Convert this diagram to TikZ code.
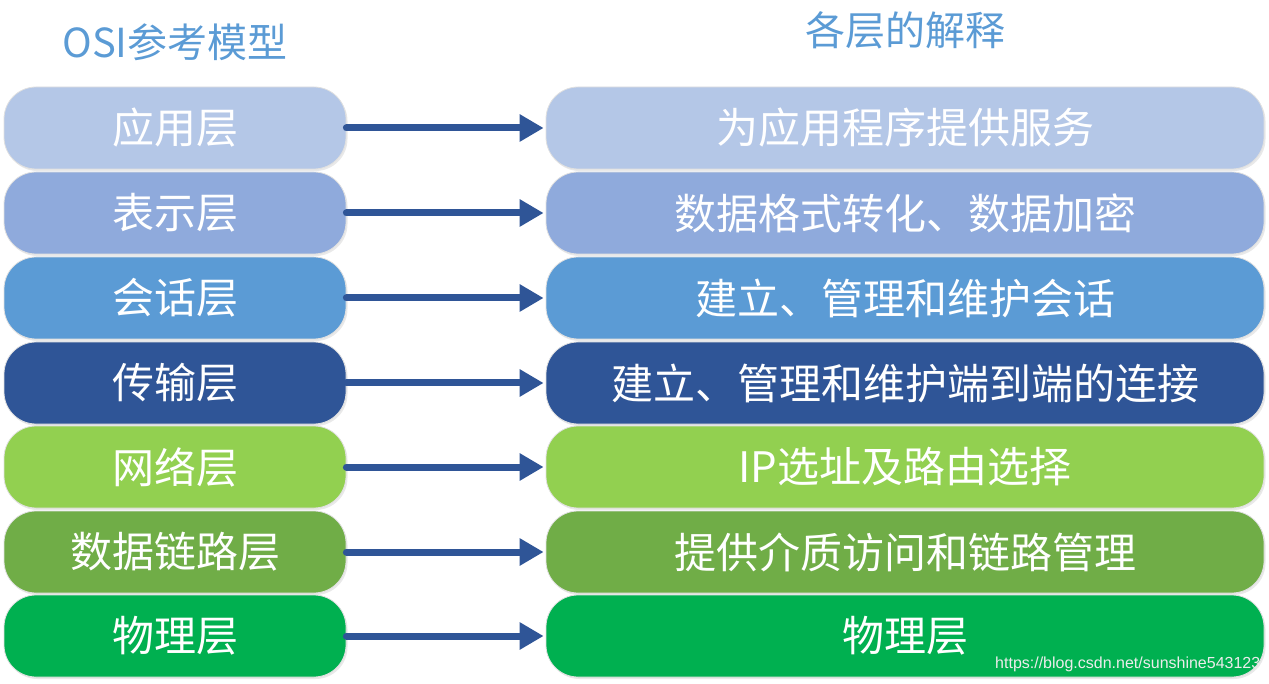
\documentclass[tikz,border=0pt]{standalone}
\usepackage{fontspec}
\newfontfamily\cjk{Noto Sans CJK SC}
\setsansfont{Liberation Sans}
\usetikzlibrary{arrows.meta,shadows}
\definecolor{cA}{HTML}{B4C7E7}
\definecolor{cB}{HTML}{8FAADC}
\definecolor{cC}{HTML}{5B9BD5}
\definecolor{cD}{HTML}{2F5597}
\definecolor{cE}{HTML}{92D050}
\definecolor{cF}{HTML}{70AD47}
\definecolor{cG}{HTML}{00B050}
\definecolor{arrowc}{HTML}{2F5597}
\definecolor{headc}{HTML}{5B9BD5}
\begin{document}
\begin{tikzpicture}[x=1pt,y=-1pt,
  layerbox/.style={rounded corners=32pt, draw=black!12, line width=0.8pt,
    text=white, font=\cjk\fontsize{42}{44}\selectfont, inner sep=0pt,
    drop shadow={shadow xshift=1.5pt, shadow yshift=-2pt, fill=black!25, opacity=0.35}},
  leftbox/.style={layerbox, minimum width=342pt, minimum height=82pt},
  rightbox/.style={layerbox, minimum width=718pt, minimum height=82pt},
  conn/.style={draw=arrowc, line width=7pt, line cap=round,
    -{Triangle[length=24pt,width=26pt]}, shorten >=2pt},
  header/.style={text=headc, font=\cjk\fontsize{40}{42}\selectfont, inner sep=0pt}]
\useasboundingbox (0,0) rectangle (1269,684);
\node[header] (h1) at (175,42) {OSI参考模型};
\node[header] (h2) at (905,30) {各层的解释};
\foreach \i/\y/\c/\l/\r in {
  1/128/cA/应用层/为应用程序提供服务,
  2/213/cB/表示层/数据格式转化、数据加密,
  3/298/cC/会话层/建立、管理和维护会话,
  4/383/cD/传输层/建立、管理和维护端到端的连接,
  5/467/cE/网络层/IP选址及路由选择,
  6/552/cF/数据链路层/提供介质访问和链路管理,
  7/636/cG/物理层/物理层}{
  \node[leftbox, fill=\c] (L\i) at (175,\y) {\l};
  \node[rightbox, fill=\c] (R\i) at (905,\y) {\r};
  \draw[conn] (L\i.east) -- (R\i.west);
}
\node[anchor=west, text=white!85!gray, font=\sffamily\fontsize{16}{18}\selectfont, inner sep=0pt] (wm) at (995,664) {https://blog.csdn.net/sunshine543123};
\end{tikzpicture}
\end{document}
